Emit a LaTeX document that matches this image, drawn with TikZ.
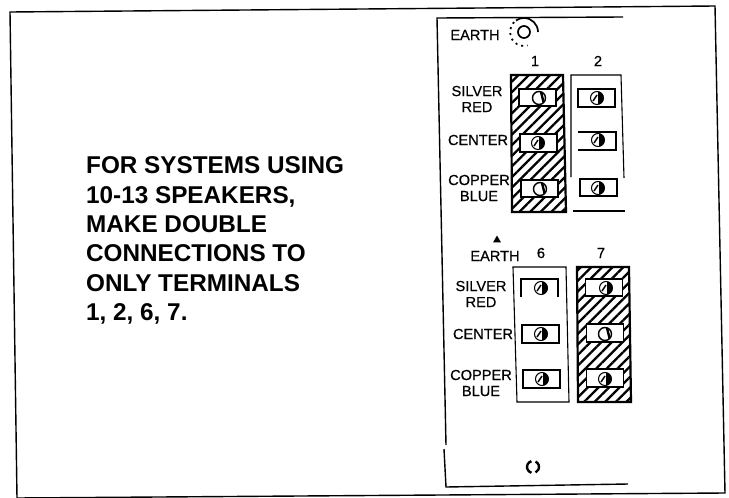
\documentclass[tikz,border=0pt]{standalone}
\usepackage{fontspec}
\setmainfont{Liberation Sans}
\newfontfamily\scanfont[FakeBold=0.6]{Liberation Sans}
\usetikzlibrary{patterns.meta, shapes.geometric}

\tikzset{
  frameline/.style={line width=1.4pt, draw=black},
  hatchbox/.style={line width=2.2pt, draw=black, pattern={Lines[angle=45, distance=7.5pt, line width=2.3pt]}},
  plainbox/.style={line width=1.1pt, draw=black},
  lug/.style={rectangle, minimum width=37pt, minimum height=17.5pt, fill=white, line width=1.7pt, draw=black},
  openlug/.style={rectangle, minimum width=37pt, minimum height=17.5pt, fill=white},
  screw/.style={circle, minimum size=13pt, fill=white, line width=1pt, draw=black, path picture={
    \fill [black] ([shift={(0.5pt,7pt)}]path picture bounding box.center) rectangle ([shift={(7pt,-7pt)}]path picture bounding box.center);
    \draw [line width=1.5pt, black] ([shift={(-4pt,-3pt)}]path picture bounding box.center) -- ([shift={(0pt,3pt)}]path picture bounding box.center);}},
  lightscrew/.style={circle, minimum size=13pt, fill=white, line width=1.4pt, draw=black, path picture={
    \draw [line width=2.4pt, black] ([shift={(2pt,6pt)}]path picture bounding box.center) -- ([shift={(5pt,-6pt)}]path picture bounding box.center);}},
  wirelabel/.style={font=\fontsize{14.6}{15}\scanfont, inner sep=0pt, align=center},
  termnum/.style={font=\fontsize{14.6}{15}\scanfont, inner sep=0pt},
  note/.style={font=\fontsize{24.3}{29.4}\selectfont\bfseries, inner sep=0pt, align=left, anchor=north west}
}

\begin{document}
\begin{tikzpicture}
\useasboundingbox (0pt, 0pt) rectangle (729pt, -498pt);
% outer frame
\draw [frameline] (10pt, -12pt) -- (715pt, -6pt) -- (725pt, -493pt) -- (17pt, -498pt) -- cycle;
% panel
\draw [frameline] (446pt, -445pt) -- (437pt, -18pt) -- (623pt, -17pt);
\draw [frameline] (444pt, -449pt) -- (446pt, -487pt) -- (628pt, -484pt);
% note
\node (note) [note] at (86pt, -156.5pt) {FOR SYSTEMS USING\\10-13 SPEAKERS,\\MAKE DOUBLE\\CONNECTIONS TO\\ONLY TERMINALS\\1, 2, 6, 7.};
% upper group
\node (earth1) [wirelabel] at (475pt, -35pt) {EARTH};
\node (post1) [circle, minimum size=12pt, line width=1.7pt, draw=black] at (524pt, -32pt) {};
\draw [line width=1.7pt] (post1.center) ++(0:14pt) arc (0:125:14pt);
\draw [line width=1.8pt, dash pattern=on 2pt off 4pt] (post1.center) ++(135:14pt) arc (135:285:14pt);
\node (num1) [termnum] at (535pt, -61pt) {1};
\node (num2) [termnum] at (598pt, -61pt) {2};
\draw [hatchbox] (511pt, -75pt) -- (563pt, -75pt) -- (566pt, -212pt) -- (512pt, -212pt) -- cycle;
\draw [plainbox] (571pt, -177pt) -- (571pt, -75pt) -- (621pt, -75pt) -- (624pt, -178pt);
\draw [plainbox] (573pt, -211pt) -- (625pt, -211pt);
\node (silver1) [wirelabel] at (477pt, -99pt) {SILVER\\[1pt]RED};
\node (center1) [wirelabel] at (478pt, -140pt) {CENTER};
\node (copper1) [wirelabel] at (479pt, -188pt) {COPPER\\[1pt]BLUE};
\node (lug11) [lug] at (537.5pt, -97.5pt) {};
\node (lug12) [lug] at (538.5pt, -143pt) {};
\node (lug13) [lug] at (539.5pt, -188.5pt) {};
\node (lug21) [lug] at (596.5pt, -98pt) {};
\node (lug22) [openlug] at (597pt, -141pt) {};
\node (lug23) [lug] at (598.5pt, -187.5pt) {};
\draw [line width=1.7pt] (lug22.north west) -- (lug22.north east) -- (lug22.south east) -- (lug22.south west);
\node (screw11) [lightscrew] at (539pt, -98pt) {};
\node (screw12) [screw] at (538pt, -143pt) {};
\node (screw13) [lightscrew] at (540pt, -189pt) {};
\node (screw21) [screw] at (597pt, -98pt) {};
\node (screw22) [screw] at (598pt, -140pt) {};
\node (screw23) [screw] at (598pt, -188pt) {};
% lower group
\node (earth2) [wirelabel] at (495pt, -256pt) {EARTH};
\node (post2) [regular polygon, regular polygon sides=3, minimum size=9pt, fill=black, inner sep=0pt] at (497pt, -240pt) {};
\node (num6) [termnum] at (541pt, -253pt) {6};
\node (num7) [termnum] at (601pt, -253pt) {7};
\draw [plainbox] (513pt, -267pt) -- (566pt, -267pt) -- (569pt, -402pt) -- (517pt, -402pt) -- cycle;
\draw [hatchbox] (577pt, -267pt) -- (629pt, -267pt) -- (631pt, -402pt) -- (578pt, -402pt) -- cycle;
\node (silver2) [wirelabel] at (481pt, -294pt) {SILVER\\[1pt]RED};
\node (center2) [wirelabel] at (483pt, -334pt) {CENTER};
\node (copper2) [wirelabel] at (481pt, -383pt) {COPPER\\[1pt]BLUE};
\node (lug61) [openlug] at (539.5pt, -288pt) {};
\node (lug62) [lug] at (540.5pt, -334pt) {};
\node (lug63) [lug] at (541.5pt, -379pt) {};
\node (lug71) [lug] at (604pt, -287.5pt) {};
\node (lug72) [lug] at (605pt, -333pt) {};
\node (lug73) [lug] at (605pt, -378pt) {};
\draw [line width=1.7pt] (lug61.south west) -- (lug61.north west) -- (lug61.north east) -- (lug61.south east);
\node (screw61) [screw] at (541pt, -288pt) {};
\node (screw62) [screw] at (541pt, -334pt) {};
\node (screw63) [screw] at (542pt, -379pt) {};
\node (screw71) [screw] at (606pt, -288pt) {};
\node (screw72) [lightscrew] at (605pt, -334pt) {};
\node (screw73) [screw] at (605pt, -379pt) {};
% bottom post
\node (post3) [circle, minimum size=12pt, inner sep=0pt] at (533pt, -467pt) {};
\draw [line width=2.4pt] (post3.center) ++(65:6pt) arc (65:-65:6pt);
\draw [line width=2.4pt] (post3.center) ++(105:6pt) arc (105:255:6pt);
\end{tikzpicture}
\end{document}
